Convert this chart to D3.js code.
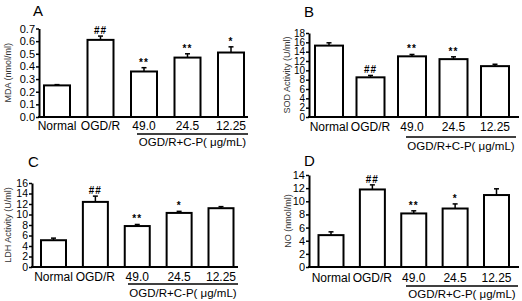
<!DOCTYPE html>
<html>
<head>
<meta charset="utf-8">
<script src="https://cdn.jsdelivr.net/npm/d3@7"></script>
<style>
body { margin: 0; background: #fff; }
text { font-family: "Liberation Sans", Arial, sans-serif; }
</style>
</head>
<body>
<div id="chart"></div>
<script>
// groups shared by all four panels
var groups = ["Normal", "OGD/R", "49.0", "24.5", "12.25"];
var groupNote = "OGD/R+C-P( μg/mL)";

// A - MDA
var mdaMean = [0.25, 0.61, 0.36, 0.47, 0.51];
var mdaErr = [0.006, 0.03, 0.03, 0.03, 0.045];
var mdaMarks = ["", "##", "**", "**", "*"];
var mdaTicks = [0, 0.1, 0.2, 0.3, 0.4, 0.5, 0.6, 0.7];

// B - SOD
var sodMean = [15.3, 8.5, 13.0, 12.4, 10.9];
var sodErr = [0.6, 0.4, 0.4, 0.5, 0.4];
var sodMarks = ["", "##", "**", "**", ""];
var sodTicks = [0, 2, 4, 6, 8, 10, 12, 14, 16, 18];

// C - LDH
var ldhMean = [5.1, 12.4, 7.8, 10.3, 11.2];
var ldhErr = [0.4, 1.1, 0.3, 0.3, 0.3];
var ldhMarks = ["", "##", "**", "*", ""];
var ldhTicks = [0, 2, 4, 6, 8, 10, 12, 14, 16];

// D - NO
var noMean = [4.85, 11.8, 8.15, 8.9, 10.95];
var noErr = [0.5, 0.7, 0.4, 0.7, 0.95];
var noMarks = ["", "##", "**", "*", ""];
var noTicks = [0, 2, 4, 6, 8, 10, 12, 14];

var W = 522, H = 301;

var svg = d3.select("#chart")
	.append("svg")
	.attr("width", W)
	.attr("height", H);

// layout of each panel (pixels)
var panels = [
	{ letter: "A", ylabel: "MDA (nmol/ml)", mean: mdaMean, err: mdaErr, marks: mdaMarks, ticks: mdaTicks, fmt: ".1f", tickFont: 11,
	  axisX: 39, axisEnd: 248, first: 57, last: 231, top: 28.5, bottom: 117, barW: 26,
	  letterX: 33, letterY: 16, ylabX: 8, labelY: 130, lineY: 134, noteY: 146, lineX0: 137, lineX1: 248 },
	{ letter: "B", ylabel: "SOD Activity (U/ml)", mean: sodMean, err: sodErr, marks: sodMarks, ticks: sodTicks, fmt: "d", tickFont: 10,
	  axisX: 309, axisEnd: 519, first: 329, last: 495, top: 33, bottom: 117, barW: 28,
	  letterX: 304, letterY: 17, ylabX: 287, labelY: 131, lineY: 137, noteY: 150, lineX0: 406, lineX1: 516 },
	{ letter: "C", ylabel: "LDH Activity (U/ml)", mean: ldhMean, err: ldhErr, marks: ldhMarks, ticks: ldhTicks, fmt: "d", tickFont: 10.5,
	  axisX: 32, axisEnd: 238, first: 53.5, last: 221, top: 183, bottom: 267, barW: 25,
	  letterX: 28, letterY: 167, ylabX: 8, labelY: 281, lineY: 284, noteY: 297, lineX0: 128, lineX1: 238 },
	{ letter: "D", ylabel: "NO (nmol/ml)", mean: noMean, err: noErr, marks: noMarks, ticks: noTicks, fmt: "d", tickFont: 11,
	  axisX: 309, axisEnd: 519, first: 331, last: 496.5, top: 175, bottom: 267, barW: 25,
	  letterX: 304, letterY: 166, ylabX: 288, labelY: 282, lineY: 286, noteY: 297.5, lineX0: 406, lineX1: 518 }
];

panels.forEach(function (p) {
	var g = svg.append("g");

	var x = d3.scalePoint()
		.domain(groups)
		.range([p.first, p.last]);

	var y = d3.scaleLinear()
		.domain([0, p.ticks[p.ticks.length - 1]])
		.range([p.bottom, p.top]);

	var rows = groups.map(function (k, i) {
		return { name: k, mean: p.mean[i], err: p.err[i], mark: p.marks[i] };
	});

	// bars
	g.selectAll("rect.bar")
		.data(rows)
		.enter()
		.append("rect")
		.attr("x", function (d) { return x(d.name) - p.barW / 2; })
		.attr("y", function (d) { return y(d.mean); })
		.attr("width", p.barW)
		.attr("height", function (d) { return y(0) - y(d.mean); })
		.attr("fill", "#fff")
		.attr("stroke", "#000")
		.attr("stroke-width", 2);

	// error bars (upper only)
	g.selectAll("line.err")
		.data(rows)
		.enter()
		.append("line")
		.attr("x1", function (d) { return x(d.name); })
		.attr("x2", function (d) { return x(d.name); })
		.attr("y1", function (d) { return y(d.mean); })
		.attr("y2", function (d) { return y(d.mean + d.err); })
		.attr("stroke", "#000")
		.attr("stroke-width", 1.5);

	g.selectAll("line.cap")
		.data(rows)
		.enter()
		.append("line")
		.attr("x1", function (d) { return x(d.name) - 2.5; })
		.attr("x2", function (d) { return x(d.name) + 2.5; })
		.attr("y1", function (d) { return y(d.mean + d.err); })
		.attr("y2", function (d) { return y(d.mean + d.err); })
		.attr("stroke", "#000")
		.attr("stroke-width", 1.5);

	// significance marks
	g.selectAll("text.mark")
		.data(rows.filter(function (d) { return d.mark; }))
		.enter()
		.append("text")
		.attr("x", function (d) { return x(d.name); })
		.attr("y", function (d) { return y(d.mean + d.err) - 2; })
		.attr("text-anchor", "middle")
		.style("font-size", "10px")
		.style("letter-spacing", "1px")
		.style("font-weight", "bold")
		.text(function (d) { return d.mark; });

	// y axis
	var yAxis = g.append("g")
		.attr("transform", "translate(" + p.axisX + ",0)")
		.call(d3.axisLeft(y).tickValues(p.ticks).tickFormat(d3.format(p.fmt)).tickSize(3).tickPadding(1).tickSizeOuter(0));
	yAxis.select(".domain").attr("stroke-width", 2);
	yAxis.selectAll(".tick line").attr("stroke-width", 1.5);
	yAxis.selectAll("text")
		.style("font-size", p.tickFont + "px")
		.attr("fill", "#000");

	// x axis line
	g.append("line")
		.attr("x1", p.axisX - 1)
		.attr("x2", p.axisEnd)
		.attr("y1", p.bottom)
		.attr("y2", p.bottom)
		.attr("stroke", "#000")
		.attr("stroke-width", 2);

	// category labels
	g.selectAll("text.cat")
		.data(groups)
		.enter()
		.append("text")
		.attr("x", function (d) { return x(d); })
		.attr("y", p.labelY)
		.attr("text-anchor", "middle")
		.style("font-size", "12px")
		.text(function (d) { return d; });

	// bracket line + note under treated groups
	g.append("line")
		.attr("x1", p.lineX0)
		.attr("x2", p.lineX1)
		.attr("y1", p.lineY)
		.attr("y2", p.lineY)
		.attr("stroke", "#000")
		.attr("stroke-width", 1.5);

	g.append("text")
		.attr("x", (p.lineX0 + p.lineX1) / 2)
		.attr("y", p.noteY)
		.attr("text-anchor", "middle")
		.style("font-size", "11.5px")
		.text(groupNote);

	// y label
	g.append("text")
		.attr("transform", "translate(" + p.ylabX + "," + (p.top + p.bottom) / 2 + ")rotate(-90)")
		.attr("text-anchor", "middle")
		.attr("dy", "0.35em")
		.style("font-size", "9px")
		.attr("fill", "#333")
		.text(p.ylabel);

	// panel letter
	g.append("text")
		.attr("x", p.letterX)
		.attr("y", p.letterY)
		.style("font-size", "15px")
		.text(p.letter);
});
</script>
</body>
</html>
